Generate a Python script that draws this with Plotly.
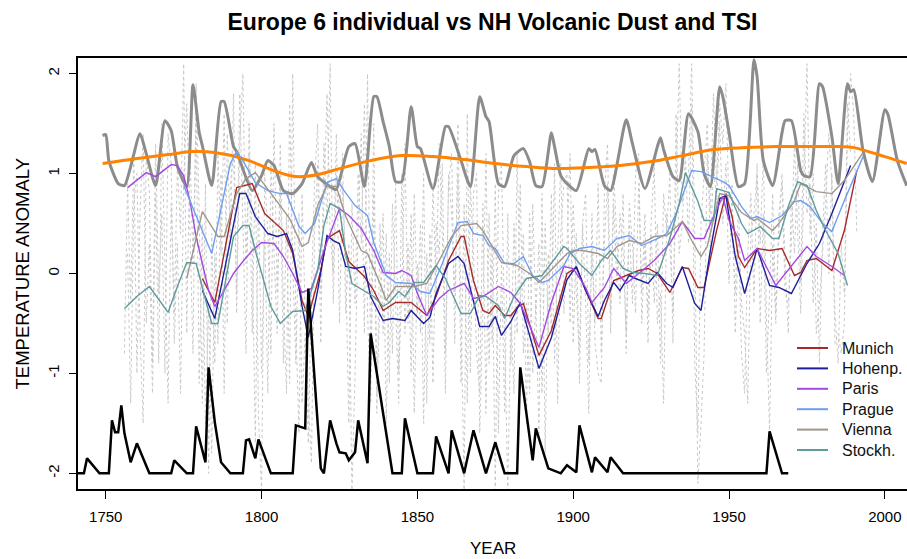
import plotly.graph_objects as go

# ---------------- data ----------------
tsi_years = [1749, 1750, 1751, 1754, 1756, 1758, 1761, 1763, 1766, 1769,
             1771, 1773, 1776, 1778, 1780, 1781, 1784, 1787, 1788, 1791,
             1792, 1797, 1800, 1802, 1804, 1807, 1810, 1813, 1816, 1818,
             1823, 1824, 1828, 1830, 1833, 1836, 1837, 1839, 1841, 1843,
             1845, 1848, 1850, 1851, 1855, 1859, 1860, 1864, 1867, 1870,
             1872, 1873, 1876, 1878, 1881, 1884, 1886, 1888, 1890, 1893,
             1894, 1896, 1898, 1901, 1905, 1906, 1907, 1910, 1912, 1917,
             1919, 1923, 1927, 1928, 1929, 1932, 1934, 1937, 1940, 1942,
             1944, 1947, 1948, 1950, 1953, 1955, 1958, 1959, 1961, 1964,
             1967, 1968, 1970, 1973, 1974, 1976, 1979, 1980, 1983, 1985,
             1988, 1989, 1990, 1993, 1996, 2000, 2001, 2004, 2007]
tsi_values = [1.38, 1.39, 1.13, 0.90, 0.88, 1.07, 1.40, 1.20, 0.88, 1.53,
              1.43, 1.07, 0.87, 1.89, 1.41, 1.28, 0.88, 1.72, 1.72, 1.27,
              1.22, 0.83, 0.98, 1.13, 1.08, 0.83, 0.80, 0.90, 1.11, 0.97,
              0.85, 0.84, 1.27, 1.30, 0.87, 1.77, 1.77, 1.52, 1.27, 0.92,
              0.92, 1.67, 1.27, 1.25, 0.85, 1.47, 1.47, 1.13, 0.87, 1.77,
              1.57, 1.52, 0.90, 0.87, 1.18, 1.25, 1.12, 0.88, 0.87, 1.41,
              1.27, 0.98, 0.90, 0.83, 1.25, 1.22, 1.24, 0.88, 0.83, 1.54,
              1.30, 0.85, 1.27, 1.36, 1.24, 0.97, 0.93, 1.60, 1.42, 1.00,
              0.87, 1.87, 1.77, 1.41, 0.87, 0.90, 2.14, 1.97, 1.13, 0.88,
              1.41, 1.53, 1.53, 1.03, 0.98, 0.97, 1.90, 1.87, 1.37, 0.90,
              1.90, 1.82, 1.84, 1.23, 0.92, 1.64, 1.59, 1.13, 0.88]

trend_years = [1749, 1760, 1770, 1778, 1785, 1795, 1803, 1811, 1818, 1825,
               1835, 1845, 1855, 1865, 1875, 1885, 1895, 1905, 1915, 1925,
               1935, 1945, 1955, 1965, 1975, 1986, 1990, 2000, 2007]
trend_values = [1.10, 1.15, 1.19, 1.22, 1.21, 1.14, 1.04, 0.97, 0.99, 1.05,
                1.13, 1.18, 1.17, 1.14, 1.10, 1.07, 1.05, 1.06, 1.08, 1.12,
                1.18, 1.24, 1.26, 1.27, 1.27, 1.27, 1.26, 1.17, 1.10]

dust_years = [1741, 1743, 1744, 1748, 1751, 1752, 1753, 1754, 1755, 1756,
              1758, 1760, 1764, 1771, 1772, 1776, 1778, 1779, 1782, 1783,
              1785, 1787, 1790, 1794, 1795, 1796, 1798, 1799, 1803, 1810,
              1811, 1814, 1815, 1819, 1820, 1822, 1824, 1825, 1827, 1828,
              1830, 1831, 1834, 1835, 1842, 1845, 1846, 1850, 1855, 1856,
              1860, 1861, 1865, 1868, 1872, 1875, 1878, 1882, 1883, 1887,
              1888, 1892, 1896, 1898, 1901, 1902, 1906, 1907, 1911, 1912,
              1916, 1962, 1963, 1967, 1969]
dust_values = [-2, -2, -1.85, -2, -2, -1.47, -1.59, -1.59, -1.32, -1.60,
               -1.89, -1.70, -2, -2, -1.87, -2, -2, -1.53, -1.89, -0.94,
               -1.49, -1.89, -2, -2, -1.67, -1.66, -1.85, -1.66, -2, -2,
               -1.52, -1.55, -0.15, -1.95, -2, -1.47, -1.70, -1.79, -1.80, -1.87,
               -1.79, -1.47, -1.90, -0.60, -2, -2, -1.45, -2, -2, -1.63,
               -2, -1.57, -2, -1.57, -2, -1.69, -2, -2, -0.94, -1.87,
               -1.55, -1.95, -2, -1.92, -1.99, -1.52, -1.99, -1.84, -1.99, -1.84,
               -2, -2, -1.58, -2, -2]

munich_years = [1781, 1785, 1792, 1795, 1797, 1801, 1807, 1810, 1813, 1815,
                1819, 1821, 1825, 1828, 1833, 1836, 1839, 1843, 1848, 1853,
                1856, 1860, 1864, 1865, 1868, 1871, 1873, 1875, 1878, 1880,
                1882, 1884, 1889, 1893, 1898, 1901, 1904, 1908, 1909, 1913,
                1917, 1921, 1924, 1927, 1931, 1935, 1937, 1940, 1942, 1946,
                1949, 1951, 1953, 1955, 1959, 1963, 1967, 1971, 1973, 1975,
                1978, 1983, 1987, 1991]
munich_values = [-0.05, -0.29, 0.86, 0.88, 0.90, 0.60, 0.43, 0.20, -0.27, -0.43,
                 0.03, 0.35, 0.43, 0.12, -0.03, -0.17, -0.37, -0.29, -0.29, -0.42,
                 -0.23, 0.13, 0.37, 0.37, -0.07, -0.37, -0.40, -0.32, -0.42, -0.42,
                 -0.34, -0.30, -0.82, -0.57, 0.00, 0.06, -0.17, -0.45, -0.45, -0.07,
                 -0.02, 0.03, 0.05, 0.00, -0.19, 0.06, 0.05, -0.14, -0.14, 0.43,
                 0.80, 0.57, 0.17, 0.06, 0.25, 0.23, 0.25, -0.02, 0.01, 0.13,
                 0.15, 0.03, 0.43, 1.03]

hohenp_years = [1781, 1785, 1793, 1795, 1798, 1802, 1805, 1808, 1810, 1813,
                1815, 1818, 1821, 1823, 1825, 1827, 1830, 1833, 1835, 1839,
                1842, 1846, 1848, 1852, 1854, 1856, 1860, 1863, 1865, 1870,
                1873, 1875, 1877, 1880, 1883, 1889, 1893, 1898, 1901, 1904,
                1908, 1910, 1913, 1915, 1918, 1920, 1924, 1927, 1930, 1932,
                1935, 1939, 1941, 1944, 1947, 1949, 1952, 1955, 1959, 1963,
                1966, 1970, 1975, 1979, 1983, 1989]
hohenp_values = [-0.17, -0.45, 0.80, 0.80, 0.57, 0.40, 0.37, 0.40, 0.23, -0.33,
                 -0.64, -0.17, 0.38, 0.33, 0.30, 0.07, 0.05, 0.07, -0.23, -0.47,
                 -0.45, -0.47, -0.37, -0.50, -0.44, -0.20, 0.10, 0.17, 0.10, -0.53,
                 -0.53, -0.43, -0.62, -0.48, -0.29, -0.95, -0.64, -0.06, 0.07, -0.17,
                 -0.43, -0.27, -0.09, -0.17, -0.02, -0.05, -0.10, 0.01, -0.10, -0.14,
                 0.07, -0.30, -0.37, 0.23, 0.75, 0.78, 0.17, -0.20, 0.25, -0.12,
                 -0.14, -0.20, 0.10, 0.30, 0.60, 1.08]

paris_years = [1757, 1763, 1766, 1771, 1773, 1775, 1777, 1779, 1783, 1785,
               1788, 1791, 1794, 1797, 1800, 1804, 1807, 1810, 1813, 1816,
               1820, 1825, 1828, 1832, 1836, 1839, 1843, 1845, 1848, 1850,
               1853, 1857, 1860, 1865, 1868, 1871, 1876, 1880, 1883, 1889,
               1893, 1897, 1900, 1904, 1906, 1910, 1913, 1917, 1921, 1926,
               1931, 1935, 1939, 1942, 1945, 1948, 1950, 1953, 1955, 1959,
               1965, 1970, 1975, 1978, 1983, 1987]
paris_values = [0.86, 1.01, 0.97, 1.09, 1.08, 0.98, 0.73, 0.37, -0.17, -0.33,
                -0.17, 0.00, 0.12, 0.23, 0.31, 0.30, 0.17, 0.00, -0.19, -0.15,
                0.23, 0.65, 0.58, 0.45, 0.23, 0.01, 0.00, 0.03, -0.02, -0.20,
                -0.42, -0.25, -0.17, -0.10, -0.25, -0.23, -0.13, -0.19, -0.30, -0.74,
                -0.29, 0.07, 0.05, -0.14, -0.29, -0.14, 0.05, -0.10, 0.00, 0.13,
                0.30, 0.52, 0.35, 0.35, 0.57, 0.77, 0.53, 0.35, 0.13, 0.25,
                -0.12, 0.07, 0.27, 0.17, 0.07, -0.02]

prague_years = [1775, 1784, 1790, 1792, 1794, 1798, 1802, 1806, 1808, 1812,
                1814, 1817, 1821, 1824, 1826, 1830, 1834, 1836, 1840, 1843,
                1848, 1851, 1854, 1858, 1863, 1866, 1868, 1871, 1873, 1875,
                1878, 1881, 1884, 1887, 1890, 1892, 1897, 1899, 1902, 1906,
                1910, 1914, 1918, 1922, 1927, 1930, 1933, 1938, 1941, 1948,
                1950, 1954, 1957, 1959, 1963, 1967, 1971, 1973, 1976, 1980,
                1983, 1987, 1993]
prague_values = [0.88, 0.20, 1.10, 1.22, 1.13, 0.91, 0.83, 0.80, 0.80, 0.47,
                 0.40, 0.50, 0.91, 0.95, 0.85, 0.68, 0.58, 0.31, -0.02, -0.09,
                 -0.10, -0.18, -0.20, 0.10, 0.51, 0.52, 0.40, 0.38, 0.28, 0.25,
                 0.10, 0.10, 0.17, -0.02, -0.09, -0.07, 0.08, 0.20, 0.25, 0.27,
                 0.23, 0.35, 0.38, 0.28, 0.35, 0.40, 0.60, 1.03, 1.02, 0.92,
                 0.88, 0.67, 0.55, 0.57, 0.51, 0.58, 0.72, 0.73, 0.67, 0.50,
                 0.42, 0.73, 1.17]

vienna_years = [1776, 1781, 1786, 1788, 1792, 1795, 1798, 1800, 1805, 1809,
                1813, 1815, 1818, 1821, 1824, 1827, 1832, 1834, 1838, 1840,
                1843, 1849, 1853, 1857, 1861, 1864, 1869, 1871, 1877, 1879,
                1882, 1886, 1889, 1894, 1898, 1900, 1903, 1908, 1911, 1914,
                1918, 1922, 1926, 1930, 1935, 1938, 1941, 1943, 1947, 1950,
                1954, 1958, 1959, 1964, 1966, 1971, 1973, 1978, 1983, 1987,
                1993]
vienna_values = [-0.05, 0.62, 0.37, 0.37, 0.80, 0.95, 1.01, 0.93, 0.72, 0.55,
                 0.27, 0.31, 0.68, 0.88, 0.87, 0.57, 0.23, 0.20, -0.10, -0.27,
                 -0.13, -0.13, -0.10, 0.13, 0.37, 0.48, 0.50, 0.43, 0.11, 0.10,
                 0.08, 0.00, -0.09, 0.07, 0.20, 0.23, 0.23, 0.20, 0.15, 0.27,
                 0.33, 0.30, 0.37, 0.38, 0.52, 0.33, 0.17, 0.27, 0.80, 0.78,
                 0.61, 0.53, 0.55, 0.43, 0.50, 0.73, 0.90, 0.82, 0.80, 0.93,
                 1.21]

stockh_years = [1756, 1760, 1764, 1770, 1773, 1776, 1779, 1784, 1786, 1791,
                1794, 1796, 1798, 1803, 1806, 1810, 1814, 1818, 1820, 1822,
                1825, 1827, 1829, 1833, 1836, 1839, 1841, 1844, 1846, 1849,
                1852, 1856, 1859, 1864, 1867, 1870, 1872, 1876, 1878, 1881,
                1885, 1890, 1893, 1897, 1898, 1902, 1906, 1909, 1912, 1916,
                1919, 1923, 1927, 1931, 1934, 1936, 1940, 1942, 1945, 1946,
                1950, 1954, 1956, 1960, 1964, 1966, 1969, 1972, 1975, 1978,
                1981, 1985, 1988]
stockh_values = [-0.35, -0.23, -0.13, -0.39, -0.13, 0.11, 0.10, -0.50, -0.50, 0.37,
                 0.48, 0.48, 0.23, -0.33, -0.50, -0.38, -0.37, 0.03, 0.48, 0.70,
                 0.65, 0.20, -0.10, -0.17, -0.23, -0.33, -0.29, -0.18, -0.23, -0.09,
                 -0.09, 0.08, -0.05, -0.40, -0.40, -0.22, -0.23, -0.32, -0.45, -0.23,
                 -0.05, -0.02, 0.10, 0.27, 0.25, 0.10, -0.02, 0.13, 0.23, 0.05,
                 0.01, 0.00, -0.02, 0.35, 0.70, 1.01, 0.72, 0.53, 0.53, 0.85,
                 0.81, 0.50, 0.40, 0.47, 0.35, 0.35, 0.67, 0.92, 0.88, 0.63,
                 0.43, 0.20, -0.12]

# annual individual values (dotted background), estimated from the haze
annual_a_years = list(range(1756, 1992))
annual_a_values = [
    -0.8, 0.9, -0.3, 1.2, -1.0, 0.6, 1.4, -0.5, 0.3, -1.2,
    0.8, -0.9, 1.5, 0.2, -1.3, 0.7, -0.4, 1.1, 0.4, 2.1,
    -0.6, 1.3, 0.1, 1.6, -1.1, 0.5, -1.5, -0.3, -1.8, 0.2,
    -0.7, 1.0, -1.2, 1.4, 0.3, 1.8, -0.4, 1.3, 2.0, 0.1,
    1.2, -0.6, 1.1, -1.4, -2.2, 1.0, 0.4, -0.8, 1.5, -0.2,
    0.9, -0.9, 0.6, -1.1, 2.0, -0.5, -1.6, 0.8, -0.4, -1.3,
    -1.9, 0.4, 1.1, -0.7, 1.3, 0.5, 2.1, -0.3, 1.0, 0.6,
    1.2, -0.4, 0.3, -2.2, -1.0, 0.5, 1.4, -0.6, 2.0, -0.9,
    1.5, -1.2, -0.3, 0.6, -1.5, 0.2, -0.8, 0.9, -1.0, -0.2,
    1.3, -0.5, 0.6, -1.4, 0.1, -0.6, 1.0, -1.3, 0.4, -1.1,
    0.5, 0.2, 1.1, -0.8, 0.9, 1.2, -0.7, 1.5, -0.3, -2.2,
    1.6, -1.0, 0.8, 1.0, -1.6, -0.4, 1.2, -0.9, 0.3, -2.2,
    0.8, 1.1, -0.6, -2.2, -0.4, -1.2, 1.2, -0.3, 0.4, -1.5,
    0.6, -1.0, -0.3, -1.6, 0.8, -1.8, 0.2, -0.6, 1.1, -1.3,
    0.4, 0.9, 1.0, -0.5, 0.7, -0.2, -0.8, 0.5, -0.3, -1.4,
    0.6, -0.7, -1.0, -1.1, 0.8, 1.3, -0.4, 0.7, -0.1, 0.6,
    0.2, -0.6, 0.5, -0.3, 1.0, 1.2, -0.5, 0.3, -0.4, 0.5,
    1.1, -0.5, -0.2, -1.3, 0.6, 0.3, -0.4, 0.8, 2.1, 0.7,
    0.9, 1.0, 2.1, 0.4, -2.1, -1.5, -0.8, 1.2, 0.6, 1.8,
    0.9, 1.7, 1.3, 1.9, 0.6, 0.4, -0.2, 0.7, -0.3, -0.6,
    -1.3, 0.4, 0.6, 1.0, 0.3, 1.2, -0.4, -1.6, 0.3, -0.5,
    0.6, 0.9, -0.2, -0.3, 0.3, 1.3, 0.5, -0.4, 0.9, 2.1,
    0.4, 1.0, -0.6, -0.3, 0.2, 0.7, 1.4, 0.9, -0.7, -0.6,
    -0.8, -0.5, 1.4, 2.0, 1.6, 0.4]

annual_b_years = list(range(1757, 1990))
annual_b_values = [
    0.2, -1.3, 0.7, 1.0, -0.6, -1.5, 1.2, 0.8, -0.9, 1.3,
    -0.2, 0.6, -1.0, 1.4, 1.1, -0.7, 0.3, -1.2, 0.9, 1.7,
    0.5, -0.8, 1.9, 0.6, -1.3, 0.9, -2.0, 0.4, -0.9, 1.2,
    0.2, 1.6, -0.5, 0.9, 1.2, -0.2, 1.8, 0.5, -0.8, 1.5,
    0.3, -1.7, 0.8, -1.0, 0.5, -1.2, 1.1, 0.2, -0.6, 1.3,
    -0.3, -1.2, 1.7, 0.1, -0.9, 0.6, -1.3, -0.6, -1.7, -0.2,
    0.9, 1.5, -0.2, 0.7, 1.8, 0.4, 0.0, 1.4, -0.5, 0.9,
    0.1, -1.5, 0.7, -0.3, 1.0, 0.3, 1.7, -0.4, -1.3, 0.8,
    -1.4, 0.5, -0.6, 0.4, -1.1, 0.7, -0.3, -1.3, 1.0, -0.6,
    0.3, -1.0, 0.8, -0.4, 0.5, -1.5, 0.2, -0.7, 0.9, -0.2,
    1.3, 0.4, -1.2, 1.0, 0.6, -0.2, 1.0, -1.1, 0.7, -1.3,
    0.9, 0.2, -0.8, -1.2, 0.7, -1.4, 0.6, -0.7, 0.9, -1.6,
    0.1, -1.4, 0.6, -0.9, 0.5, -0.6, 0.9, -0.8, -0.3, -1.2,
    0.7, -0.4, 0.3, -1.2, 0.5, -0.6, 0.8, -0.9, 0.2, 1.1,
    -0.4, 0.3, 1.2, -0.7, 0.4, -1.1, 0.5, 0.8, -0.9, 0.2,
    -0.5, 0.9, -0.8, 0.3, 0.9, -0.6, 1.0, 0.4, -0.3, 0.8,
    -0.8, 0.7, 0.3, -0.4, 0.9, -0.2, 0.6, -0.7, 0.4, -0.3,
    0.5, -0.9, 0.8, 0.4, 1.0, -0.7, 1.6, 0.2, 0.5, 1.2,
    0.3, 1.7, -0.9, -1.6, 0.5, 1.0, 1.5, 0.2, 1.1, 0.7,
    1.5, 0.5, 1.1, -0.1, 0.9, -0.6, 0.4, -0.8, -1.2, 0.2,
    0.8, -0.3, 1.1, -0.5, 0.6, -1.0, -0.2, 0.8, -0.4, 0.4,
    1.0, 0.1, -0.6, 0.8, 0.2, 1.1, -0.1, 1.6, 0.6, 0.9,
    -0.3, 0.5, -0.9, 0.4, 1.1, 0.0, 1.0, -0.4, -0.9, 0.3,
    -0.2, 1.7, 1.2]

x_ticks = [1750, 1800, 1850, 1900, 1950, 2000]
y_ticks = [-2, -1, 0, 1, 2]
y_tick_labels = ["-2", "-1", "0", "1", "2"]

city_names = ["Munich", "Hohenp.", "Paris", "Prague", "Vienna", "Stockh."]
city_years = [munich_years, hohenp_years, paris_years, prague_years, vienna_years, stockh_years]
city_values = [munich_values, hohenp_values, paris_values, prague_values, vienna_values, stockh_values]
city_colors = ["#A52A2A", "#1E1E9C", "#A449E0", "#6E9EF0", "#A0968C", "#5F9A9C"]

# ---------------- figure ----------------
W, H = 907, 559
L, R, T, B = 78, 0, 58, 70
PW, PH = W - L - R, H - T - B

fig = go.Figure()

for yrs, vals in [(annual_a_years, annual_a_values), (annual_b_years, annual_b_values)]:
    fig.add_trace(go.Scatter(x=yrs, y=vals, mode="lines", showlegend=False,
                             line=dict(color="#C8C8C8", width=1, dash="dot"),
                             hoverinfo="skip"))

fig.add_trace(go.Scatter(x=tsi_years, y=tsi_values, mode="lines", showlegend=False,
                         line=dict(color="#8C8C8C", width=3, shape="spline", smoothing=0.6)))
fig.add_trace(go.Scatter(x=trend_years, y=trend_values, mode="lines", showlegend=False,
                         line=dict(color="#FF8200", width=3, shape="spline", smoothing=1.0)))

for name, yrs, vals, col in zip(city_names, city_years, city_values, city_colors):
    fig.add_trace(go.Scatter(x=yrs, y=vals, mode="lines", name=name, showlegend=False,
                             line=dict(color=col, width=1.4)))

fig.add_trace(go.Scatter(x=dust_years, y=dust_values, mode="lines", showlegend=False,
                         line=dict(color="black", width=2.5)))

# legend drawn as paper-anchored samples + labels (R-style spacing)
def px_x(xp):
    return (xp - L) / PW

def px_y(yp):
    return (H - B - yp) / PH

shapes = []
annotations = []
for i, (name, col) in enumerate(zip(city_names, city_colors)):
    yc = 348 + 20.4 * i
    shapes.append(dict(type="line", xref="paper", yref="paper",
                       x0=px_x(797), x1=px_x(828), y0=px_y(yc), y1=px_y(yc),
                       line=dict(color=col, width=2)))
    annotations.append(dict(text=name, xref="paper", yref="paper",
                            x=px_x(840), y=px_y(yc), xanchor="left", yanchor="middle",
                            showarrow=False, font=dict(size=16, color="#111111")))

annotations += [
    dict(text="YEAR", xref="paper", yref="paper", x=0.5, y=0,
         xanchor="center", yanchor="middle", yshift=-59,
         showarrow=False, font=dict(size=17)),
    dict(text="TEMPERATURE ANOMALY", xref="paper", yref="paper", x=0, y=0.5,
         xanchor="center", yanchor="middle", xshift=-(L - 22), textangle=-90,
         showarrow=False, font=dict(size=18.5)),
]

fig.update_layout(
    width=W, height=H,
    margin=dict(l=L, r=R, t=T, b=B, autoexpand=False),
    plot_bgcolor="white", paper_bgcolor="white",
    font=dict(family="Liberation Sans, Arial, sans-serif", color="black"),
    showlegend=False,
    hovermode=False,
    title=dict(text="<b>Europe 6 individual vs NH Volcanic Dust and TSI</b>",
               x=0.5, xref="paper", xanchor="center",
               y=1 - 22 / H, yref="container", yanchor="middle",
               font=dict(size=23, color="black")),
    xaxis=dict(range=[1741.1, 2007.1], tickvals=x_ticks, ticks="outside",
               ticklen=8, tickwidth=1, tickcolor="black",
               showline=True, linewidth=2, linecolor="black", mirror=True,
               showgrid=False, zeroline=False, tickfont=dict(size=15),
               ticklabelstandoff=5),
    yaxis=dict(range=[-2.157, 2.157], tickvals=y_ticks, ticktext=y_tick_labels,
               ticks="outside", ticklen=7, tickwidth=1, tickcolor="black",
               tickangle=-90, showline=True, linewidth=2, linecolor="black",
               mirror=False, showgrid=False, zeroline=False,
               tickfont=dict(size=15), ticklabelstandoff=4),
    shapes=shapes,
    annotations=annotations,
)

# remove the browser's default 8px body margin so the figure fills the window exactly
fig.write_html("out.html", config={"displayModeBar": False},
               post_script="document.body.style.margin='0px';")
